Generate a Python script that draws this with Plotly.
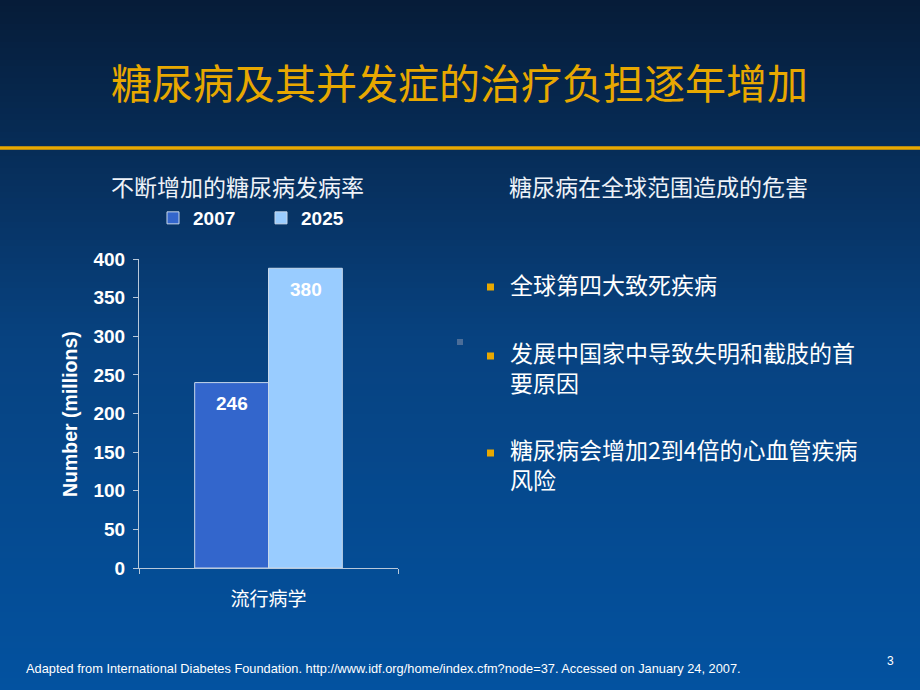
import plotly.graph_objects as go

# ---------------- data ----------------
categories = ["流行病学"]
series_names = ["2007", "2025"]
bar_heights = [240, 388]          # drawn heights
bar_labels = ["246", "380"]       # printed value labels
series_colors = ["#3366CC", "#99CCFF"]
y_tick_vals = [0, 50, 100, 150, 200, 250, 300, 350, 400]

title_text = "糖尿病及其并发症的治疗负担逐年增加"
left_subtitle = "不断增加的糖尿病发病率"
right_subtitle = "糖尿病在全球范围造成的危害"
y_axis_title = "Number (millions)"
bullet_items = [
    ["全球第四大致死疾病"],
    ["发展中国家中导致失明和截肢的首", "要原因"],
    ["糖尿病会增加2到4倍的心血管疾病", "风险"],
]
footnote = ("Adapted from International Diabetes Foundation. "
            "http://www.idf.org/home/index.cfm?node=37. Accessed on January 24, 2007.")
page_number = "3"

# ---------------- layout helpers ----------------
W, H = 920, 690
def px(x):
    return x / W
def py(y):
    return 1 - y / H

CJK = "Noto Sans CJK SC, Noto Sans, sans-serif"
ARIAL = "Liberation Sans, Arial, sans-serif"
GOLD = "#E8A800"
BAR_PX = 74  # width of one bar in pixels (plot width * (1 - bargap) / 2)

fig = go.Figure()
for name, h, col in zip(series_names, bar_heights, series_colors):
    fig.add_trace(go.Bar(
        name=name, x=categories, y=[h],
        marker=dict(color=col, line=dict(color="#C8D8EA", width=1)),
        hoverinfo="name+y",
    ))

# background gradient (vertical bands)
stops = [(0, (6, 28, 56)), (340, (7, 66, 128)), (690, (3, 82, 160))]
def col_at(y):
    for (y0, c0), (y1, c1) in zip(stops[:-1], stops[1:]):
        if y0 <= y <= y1:
            t = (y - y0) / (y1 - y0)
            return "rgb(%d,%d,%d)" % tuple(round(a + (b - a) * t) for a, b in zip(c0, c1))
    return "rgb(%d,%d,%d)" % stops[-1][1]

shapes = []
band = 6
for y in range(0, H, band):
    shapes.append(dict(type="rect", xref="paper", yref="paper", layer="below",
                       x0=0, x1=1, y0=py(y + band + 0.5), y1=py(y),
                       fillcolor=col_at(y + band / 2), line=dict(width=0)))
# gold rule
shapes.append(dict(type="line", xref="paper", yref="paper", x0=0, x1=1,
                   y0=py(148), y1=py(148), line=dict(color=GOLD, width=3.5)))
# small grey mark
shapes.append(dict(type="rect", xref="paper", yref="paper", x0=px(457), x1=px(463),
                   y0=py(345), y1=py(339), fillcolor="#4B6D98", line=dict(width=0)))

def ann(text, x, y, size, color="white", family=CJK, xanchor="center", **kw):
    fkw = kw.pop("fkw", {})
    return dict(text=text, x=px(x), y=py(y), xref="paper", yref="paper",
                xanchor=xanchor, yanchor="middle", showarrow=False,
                font=dict(family=family, size=size, color=color, **fkw), **kw)

annotations = [
    ann(title_text, 459, 81, 41, GOLD),
    ann(left_subtitle, 237, 186, 23, "#EEF2F8"),
    ann(right_subtitle, 658, 186, 23, "#EEF2F8"),
    ann(y_axis_title, 70, 414, 19.5, family=ARIAL, textangle=-90, fkw={"weight": "bold"}),
    ann(footnote, 24, 668, 12.8, family=ARIAL, xanchor="left"),
    ann(page_number, 890, 661, 12, family=ARIAL),
]

# value labels inside top of each bar (data coordinates)
n = len(series_names)
for i, (h, lab) in enumerate(zip(bar_heights, bar_labels)):
    annotations.append(dict(text=lab, x=categories[0], y=h, xref="x", yref="y",
                            xshift=(i - (n - 1) / 2) * BAR_PX, yshift=-21,
                            yanchor="middle", showarrow=False,
                            font=dict(family=ARIAL, size=19, color="white", weight="bold")))

bullet_y = [287, 356, 453]
for lines, yb in zip(bullet_items, bullet_y):
    shapes.append(dict(type="rect", xref="paper", yref="paper",
                       x0=px(487), x1=px(494), y0=py(yb + 3.5), y1=py(yb - 3.5),
                       fillcolor=GOLD, line=dict(width=0)))
    yc = yb - 3 + (len(lines) - 1) * 14
    annotations.append(ann("<br>".join(lines), 508, yc, 23, xanchor="left", align="left"))

fig.update_layout(
    width=W, height=H, margin=dict(l=0, r=0, t=0, b=0, autoexpand=False),
    paper_bgcolor="rgb(3,82,160)", plot_bgcolor="rgba(0,0,0,0)",
    barmode="group", bargap=0.43, bargroupgap=0,
    shapes=shapes, annotations=annotations,
    showlegend=True,
    legend=dict(orientation="h", x=px(153), y=py(218), xanchor="left", yanchor="middle",
                bgcolor="rgba(0,0,0,0)", entrywidth=63, entrywidthmode="pixels",
                font=dict(family=ARIAL, size=19, color="white", weight="bold"),
                itemclick=False),
    xaxis=dict(domain=[px(139), px(398)], showline=True, linecolor="#B8C8DA", linewidth=1,
               ticks="outside", tickson="boundaries", ticklen=5, tickcolor="#B8C8DA",
               ticklabelstandoff=14, automargin=False,
               tickfont=dict(family=CJK, size=19, color="white"), showgrid=False,
               fixedrange=True),
    yaxis=dict(domain=[py(568), py(259)], range=[0, 400], tickvals=y_tick_vals,
               showline=True, linecolor="#B8C8DA", linewidth=1, ticks="outside",
               ticklen=5, tickcolor="#B8C8DA", showgrid=False, zeroline=False,
               ticklabelstandoff=4, automargin=False,
               tickfont=dict(family=ARIAL, size=19, color="white", weight="bold"),
               fixedrange=True),
)

fig.write_html("out.html", config={"displayModeBar": False},
               post_script="document.body.style.margin='0';"
                           "document.body.style.overflow='hidden';"
                           "document.body.style.background='rgb(3,82,160)';")
